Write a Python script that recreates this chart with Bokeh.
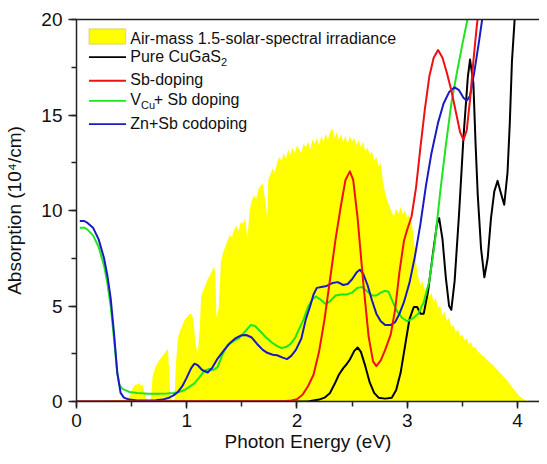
from bokeh.plotting import figure
from bokeh.models import (Range1d, SingleIntervalTicker, LinearAxis, FixedTicker,
                          BoxAnnotation, Label)
from bokeh.embed import file_html
from bokeh.resources import INLINE

# ---------------- data ----------------
x_ticks = [0, 1, 2, 3, 4]
y_ticks = [0, 5, 10, 15, 20]

series_names = ["Air-mass 1.5-solar-spectral irradiance", "Pure CuGaS", "Sb-doping",
                "V", "Zn+Sb codoping"]

# AM1.5 solar spectrum (scaled onto the absorption axis)
spec_e = [0.28, 0.30, 0.34, 0.38, 0.42, 0.46, 0.49, 0.51, 0.53, 0.55, 0.57, 0.59, 0.60, 0.62, 0.64,
          0.67, 0.68, 0.69, 0.71, 0.73, 0.75, 0.77, 0.79, 0.81, 0.83, 0.84, 0.85, 0.87, 0.89, 0.90,
          0.92, 0.94, 0.96, 0.98, 1.00, 1.02, 1.04, 1.06, 1.08, 1.10, 1.12, 1.13, 1.15, 1.17, 1.19,
          1.21, 1.23, 1.25, 1.26, 1.27, 1.29, 1.31, 1.33, 1.35, 1.37, 1.39, 1.41, 1.43, 1.45, 1.47,
          1.49, 1.51, 1.53, 1.55, 1.57, 1.59, 1.61, 1.63, 1.65, 1.67, 1.69, 1.71, 1.73, 1.74, 1.76,
          1.78, 1.80, 1.82, 1.84, 1.86, 1.88, 1.90, 1.92, 1.94, 1.96, 1.98, 2.00, 2.02, 2.04, 2.06,
          2.08, 2.10, 2.12, 2.14, 2.16, 2.18, 2.20, 2.22, 2.24, 2.26, 2.28, 2.30, 2.32, 2.34, 2.36,
          2.38, 2.40, 2.42, 2.44, 2.46, 2.48, 2.50, 2.52, 2.54, 2.56, 2.58, 2.60, 2.62, 2.64, 2.66,
          2.68, 2.70, 2.72, 2.74, 2.76, 2.78, 2.80, 2.82, 2.84, 2.86, 2.88, 2.90, 2.92, 2.94, 2.96,
          2.98, 3.00, 3.02, 3.04, 3.06, 3.08, 3.10, 3.12, 3.14, 3.16, 3.18, 3.20, 3.22, 3.24, 3.26,
          3.28, 3.30, 3.32, 3.34, 3.36, 3.38, 3.40, 3.42, 3.44, 3.46, 3.48, 3.50, 3.52, 3.54, 3.56,
          3.58, 3.60, 3.62, 3.64, 3.66, 3.68, 3.70, 3.72, 3.74, 3.76, 3.78, 3.80, 3.82, 3.84, 3.86,
          3.88, 3.90, 3.92, 3.94, 3.96, 3.98, 4.00, 4.02, 4.04, 4.06, 4.08, 4.10, 4.20]
spec_a = [0.0, 0.03, 0.08, 0.04, 0.06, 0.15, 0.35, 0.7, 0.85, 0.9, 0.95, 0.8, 0.9, 0.35, 0.05,
          0.02, 0.4, 1.3, 1.7, 1.95, 2.15, 2.3, 2.45, 2.6, 2.75, 1.6, 0.3, 0.05, 0.15, 1.8,
          3.3, 3.7, 3.95, 4.25, 4.4, 4.55, 4.6, 4.3, 3.0, 2.5, 4.0, 5.5, 5.8, 6.1, 6.4,
          6.6, 6.85, 7.05, 6.5, 4.4, 4.9, 7.3, 7.8, 8.1, 8.4, 8.7, 8.6, 9.0, 9.2, 8.9,
          9.4, 9.3, 9.6, 8.5, 10.0, 10.5, 10.8, 10.6, 11.1, 11.3, 11.4, 10.6, 9.7, 11.6, 11.9,
          12.2, 12.0, 12.5, 12.8, 12.6, 13.0, 12.7, 13.2, 12.9, 13.3, 13.0, 13.4, 13.2, 13.0, 13.5,
          13.3, 13.6, 13.2, 13.7, 13.5, 13.8, 13.4, 13.9, 13.6, 14.0, 13.7, 14.1, 14.3, 13.8, 14.1,
          13.7, 14.0, 13.6, 13.9, 13.5, 13.9, 13.6, 13.8, 13.4, 13.7, 13.3, 13.6, 13.1, 13.3, 12.9,
          13.1, 12.6, 12.8, 12.3, 12.5, 11.5, 10.9, 10.5, 10.2, 9.9, 9.7, 10.1, 9.8, 10.2, 9.8,
          10.0, 9.6, 9.8, 9.4, 8.5, 7.3, 6.5, 6.1, 6.3, 5.8, 6.0, 5.5, 5.7, 5.2, 5.4,
          4.9, 5.0, 4.5, 4.7, 4.2, 4.4, 3.9, 4.0, 3.6, 3.8, 3.4, 3.5, 3.2, 3.3, 3.0,
          3.1, 2.8, 2.85, 2.6, 2.55, 2.4, 2.35, 2.2, 2.1, 2.0, 1.9, 1.75, 1.65, 1.5, 1.4,
          1.25, 1.15, 1.0, 0.85, 0.7, 0.55, 0.4, 0.28, 0.18, 0.1, 0.05, 0.0, 0.0]

# Pure CuGaS2
pure_e = [0.0, 2.10, 2.20, 2.25, 2.30, 2.34, 2.38, 2.42, 2.45, 2.48, 2.52, 2.55, 2.58, 2.62, 2.66,
          2.70, 2.74, 2.80, 2.86, 2.90, 2.94, 2.98, 3.02, 3.06, 3.09, 3.12, 3.15, 3.19, 3.23, 3.27,
          3.29, 3.32, 3.35, 3.38, 3.40, 3.43, 3.47, 3.51, 3.55, 3.57, 3.60, 3.62, 3.64, 3.67, 3.70,
          3.73, 3.76, 3.79, 3.82, 3.85, 3.88, 3.91, 3.93, 3.95, 3.98]
pure_a = [0.0, 0.0, 0.1, 0.2, 0.45, 0.9, 1.4, 1.75, 1.95, 2.2, 2.65, 2.83, 2.6, 1.85, 1.0,
          0.45, 0.2, 0.15, 0.2, 0.6, 1.5, 2.9, 4.3, 4.95, 4.95, 4.6, 4.6, 5.8, 7.6, 9.3,
          9.6, 8.5, 6.5, 5.0, 4.8, 6.3, 9.8, 13.8, 17.0, 17.9, 16.7, 13.5, 10.8, 8.0, 6.5,
          7.5, 9.6, 11.0, 11.55, 10.9, 10.3, 12.0, 14.5, 17.8, 20.5]

# Sb-doping
sb_e = [0.0, 1.90, 1.95, 2.00, 2.05, 2.10, 2.15, 2.20, 2.25, 2.30, 2.35, 2.40, 2.44, 2.48, 2.51,
        2.55, 2.60, 2.65, 2.69, 2.72, 2.76, 2.80, 2.85, 2.89, 2.93, 2.97, 3.00, 3.04, 3.08, 3.12,
        3.16, 3.20, 3.24, 3.28, 3.32, 3.36, 3.40, 3.44, 3.48, 3.51, 3.54, 3.57, 3.60, 3.63, 3.65]
sb_a = [0.0, 0.02, 0.05, 0.12, 0.35, 0.8, 1.4, 2.6, 4.3, 6.4, 8.5, 10.3, 11.6, 12.05, 11.6,
        9.6, 6.3, 3.4, 2.1, 1.85, 2.15, 2.7, 3.5, 4.8, 6.8, 8.4, 9.0, 9.7, 11.2, 13.3,
        15.3, 17.0, 18.0, 18.4, 18.0, 17.2, 16.3, 15.2, 14.1, 13.7, 14.2, 15.8, 17.8, 19.6, 20.6]

# V_Cu + Sb doping
vcu_e = [0.03, 0.07, 0.10, 0.15, 0.20, 0.25, 0.28, 0.31, 0.34, 0.37, 0.39, 0.42, 0.48, 0.55, 0.65,
         0.75, 0.82, 0.88, 0.93, 0.98, 1.02, 1.07, 1.12, 1.16, 1.20, 1.24, 1.28, 1.32, 1.37, 1.42,
         1.47, 1.52, 1.58, 1.62, 1.67, 1.72, 1.77, 1.82, 1.86, 1.90, 1.94, 1.98, 2.02, 2.06, 2.10,
         2.14, 2.17, 2.21, 2.26, 2.30, 2.35, 2.40, 2.45, 2.50, 2.55, 2.59, 2.63, 2.68, 2.72, 2.76,
         2.80, 2.83, 2.87, 2.91, 2.95, 3.00, 3.05, 3.10, 3.15, 3.20, 3.25, 3.30, 3.35, 3.40, 3.45,
         3.50, 3.55]
vcu_a = [9.1, 9.1, 9.0, 8.7, 8.1, 7.1, 6.2, 5.0, 3.3, 1.5, 0.85, 0.65, 0.5, 0.45, 0.4,
         0.4, 0.42, 0.45, 0.5, 0.6, 0.75, 0.95, 1.3, 1.6, 1.7, 1.65, 1.8, 2.4, 2.95, 3.15,
         3.3, 3.6, 4.0, 3.95, 3.65, 3.35, 3.1, 2.9, 2.8, 2.85, 3.0, 3.3, 3.8, 4.3, 4.95,
         5.35, 5.5, 5.35, 5.1, 5.25, 5.55, 5.6, 5.6, 5.7, 5.95, 6.0, 5.8, 5.55, 5.55, 5.7,
         5.8, 5.75, 5.2, 4.7, 4.4, 4.2, 4.35, 4.6, 5.2, 6.3, 8.3, 11.0, 13.4, 15.6, 17.2,
         18.7, 20.1]

# Zn + Sb codoping
zn_e = [0.03, 0.07, 0.10, 0.15, 0.20, 0.25, 0.28, 0.31, 0.34, 0.37, 0.40, 0.43, 0.48, 0.55, 0.65,
        0.72, 0.78, 0.84, 0.88, 0.92, 0.96, 1.00, 1.04, 1.07, 1.10, 1.14, 1.19, 1.23, 1.28, 1.34,
        1.39, 1.44, 1.49, 1.54, 1.59, 1.64, 1.69, 1.73, 1.78, 1.82, 1.87, 1.91, 1.95, 1.99, 2.04,
        2.08, 2.12, 2.15, 2.18, 2.22, 2.27, 2.32, 2.37, 2.42, 2.46, 2.50, 2.54, 2.57, 2.60, 2.64,
        2.68, 2.72, 2.76, 2.80, 2.85, 2.89, 2.93, 2.97, 3.02, 3.07, 3.12, 3.17, 3.22, 3.28, 3.33,
        3.38, 3.43, 3.47, 3.51, 3.54, 3.57, 3.61, 3.65, 3.69]
zn_a = [9.45, 9.45, 9.35, 9.1, 8.5, 7.5, 6.6, 5.4, 3.6, 1.5, 0.45, 0.2, 0.1, 0.05, 0.05,
        0.06, 0.1, 0.2, 0.32, 0.5, 0.8, 1.25, 1.75, 1.98, 1.9, 1.65, 1.52, 1.75, 2.25, 2.7,
        3.05, 3.3, 3.45, 3.48, 3.35, 3.0, 2.7, 2.55, 2.45, 2.42, 2.3, 2.22, 2.4, 2.7, 3.3,
        4.3, 5.0, 5.6, 5.95, 6.0, 6.05, 6.2, 6.25, 6.1, 6.15, 6.4, 6.75, 6.9, 6.7, 6.1,
        5.3, 4.6, 4.2, 4.0, 4.0, 4.15, 4.6, 5.2, 6.2, 7.6, 9.3, 11.3, 13.0, 14.6, 15.6,
        16.2, 16.45, 16.3, 15.9, 15.75, 16.0, 17.3, 18.8, 20.4]

# ---------------- styling ----------------
FONT = "Liberation Sans"
YELLOW = "#ffff00"
OLIVE = "#9a9a4a"
C_BLACK = "#000000"
C_RED = "#ee1111"
C_GREEN = "#1ee61e"
C_BLUE = "#1a1ac4"
AXIS_C = "#222222"

p = figure(width=539, height=456, output_backend="svg", toolbar_location=None,
           x_range=Range1d(0, 4.2), y_range=Range1d(0, 20),
           min_border_left=76, min_border_right=0, min_border_top=19, min_border_bottom=55,
           background_fill_color="white", border_fill_color="white")
p.outline_line_color = None
p.xgrid.visible = False
p.ygrid.visible = False

# solar spectrum
p.varea(x=spec_e, y1=[0] * len(spec_e), y2=spec_a, fill_color=YELLOW, fill_alpha=1.0)
tail = [i for i, (e, a) in enumerate(zip(spec_e, spec_a)) if a == 0 and e > 4]
p.line([spec_e[i] for i in tail], [spec_a[i] for i in tail], line_color=OLIVE, line_width=1.5)

# absorption curves
p.line(pure_e, pure_a, line_color=C_BLACK, line_width=2, line_join="round")
p.line(vcu_e, vcu_a, line_color=C_GREEN, line_width=2, line_join="round")
p.line(zn_e, zn_a, line_color=C_BLUE, line_width=2, line_join="round")
p.line(sb_e, sb_a, line_color=C_RED, line_width=2, line_join="round")

# axes
for ax in (p.xaxis[0], p.yaxis[0]):
    ax.axis_line_color = AXIS_C
    ax.axis_line_width = 1.5
    ax.major_tick_line_color = AXIS_C
    ax.major_tick_line_width = 1.5
    ax.minor_tick_line_color = AXIS_C
    ax.minor_tick_line_width = 1.5
    ax.major_tick_in = 0
    ax.major_tick_out = 8
    ax.minor_tick_in = 0
    ax.minor_tick_out = 5
    ax.major_label_text_font = FONT
    ax.major_label_text_font_size = "19px"
    ax.major_label_text_color = "#111111"
    ax.axis_label_text_font = FONT
    ax.axis_label_text_font_size = "19px"
    ax.axis_label_text_font_style = "normal"
    ax.axis_label_text_color = "#111111"

p.xaxis[0].ticker = SingleIntervalTicker(interval=1, num_minor_ticks=2)
p.yaxis[0].ticker = SingleIntervalTicker(interval=5, num_minor_ticks=2)
p.xaxis[0].axis_label = "Photon Energy (eV)"
p.yaxis[0].axis_label = "Absorption (10\u2074/cm)"
p.xaxis[0].major_tick_out = 7
p.xaxis[0].major_label_standoff = 5
p.xaxis[0].axis_label_standoff = 1
p.yaxis[0].major_label_standoff = 6
p.yaxis[0].axis_label_standoff = 13

top_axis = LinearAxis(ticker=FixedTicker(ticks=[]), axis_line_color=AXIS_C, axis_line_width=1.5,
                      major_tick_line_color=None, minor_tick_line_color=None,
                      major_label_text_font_size="0px")
p.add_layout(top_axis, "above")

# ---------------- legend (custom, to allow subscripts) ----------------
LX0, LX1, TX = 0.113, 0.449, 0.488
p.add_layout(BoxAnnotation(left=LX0, right=0.446, bottom=18.71, top=19.51,
                           fill_color=YELLOW, fill_alpha=1.0, line_color=OLIVE, line_width=1.2))
legend_rows = [(C_BLACK, 18.03), (C_RED, 16.79), (C_GREEN, 15.74), (C_BLUE, 14.52)]
for col, yy in legend_rows:
    p.add_layout(BoxAnnotation(left=LX0, right=LX1, bottom=yy - 0.05, top=yy + 0.05,
                               fill_color=col, fill_alpha=1.0, line_color=None))

def lab(x, y, text, size="16px"):
    p.add_layout(Label(x=x, y=y, text=text, text_font=FONT, text_font_size=size,
                       text_baseline="middle", text_align="left", text_color="#111111"))

lab(TX, 19.03, series_names[0])
lab(TX, 18.06, series_names[1])
lab(1.310, 17.80, "2", "11px")
lab(TX, 16.84, series_names[2])
lab(TX, 15.80, series_names[3])
lab(0.585, 15.53, "Cu", "11px")
lab(0.700, 15.80, "+ Sb doping")
lab(TX, 14.58, series_names[4])

open("out.html", "w").write(file_html(p, INLINE))
